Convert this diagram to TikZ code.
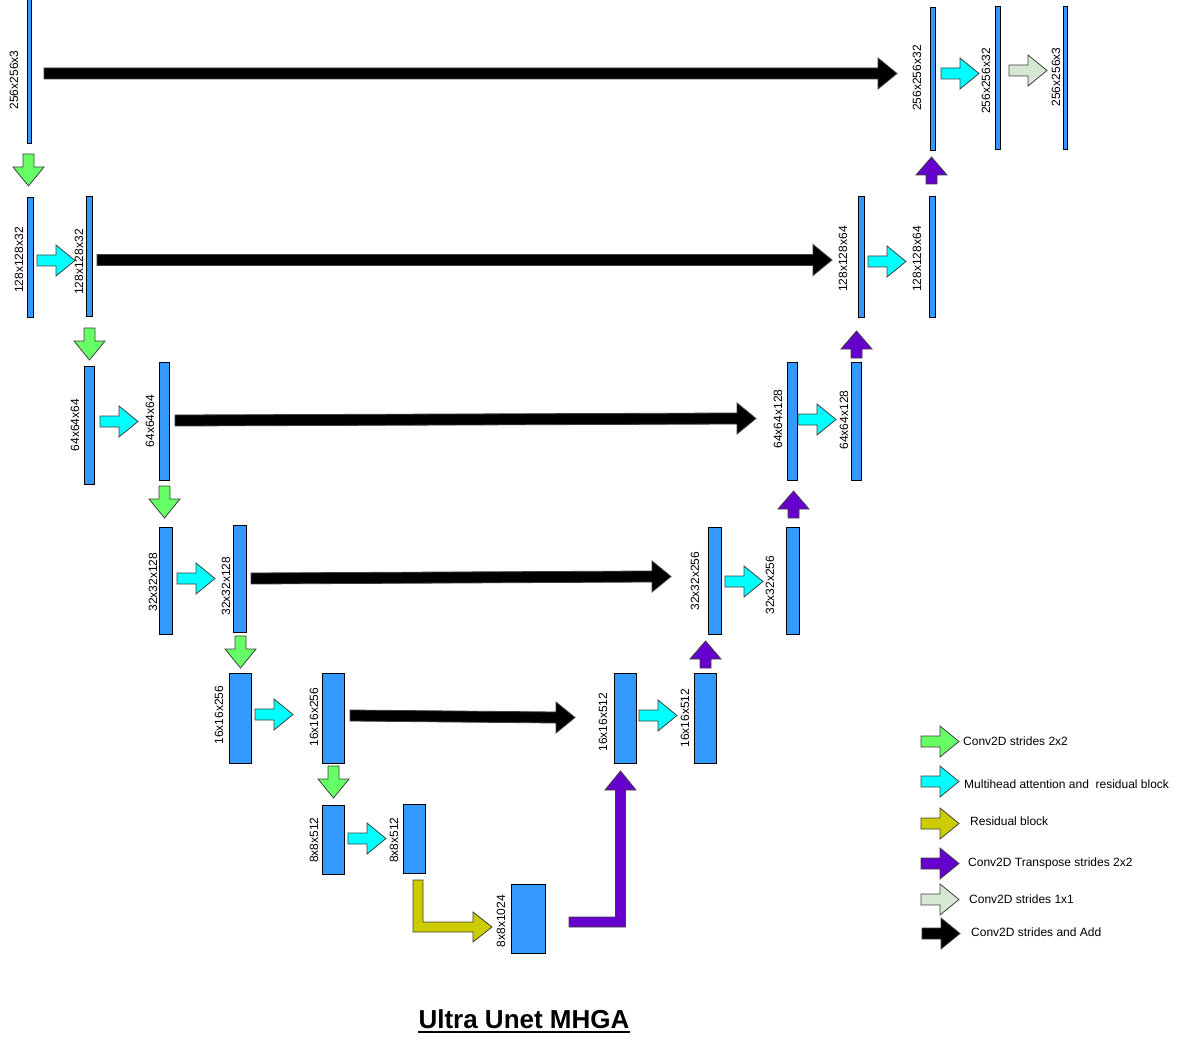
\documentclass[tikz,border=0pt]{standalone}
\usepackage{fontspec}
\setmainfont{Liberation Sans}
\definecolor{blkc}{HTML}{3399FF}
\definecolor{grn}{HTML}{66FF66}
\definecolor{cyn}{HTML}{00FFFF}
\definecolor{yel}{HTML}{CCCC00}
\definecolor{pur}{HTML}{6600CC}
\definecolor{pale}{HTML}{D5E8D4}
\newcommand\myBlk[5]{\node[blk, minimum width={(#4-#2)*1pt}, minimum height={(#5-#3)*1pt}] (#1) at ({(#2+#4)/2},{(#3+#5)/2}) {};}
\newcommand\myR[4]{\draw[arr, fill=#4] (#1,{#3-5.5}) -- ({#2-19},{#3-5.5}) -- ({#2-19},{#3-15.5}) -- (#2,#3) -- ({#2-19},{#3+15.5}) -- ({#2-19},{#3+5.5}) -- (#1,{#3+5.5}) -- cycle;}
\newcommand\myD[4]{\draw[arr, fill=#4] ({#1-5.5},#2) -- ({#1+5.5},#2) -- ({#1+5.5},{#3-19}) -- ({#1+15.5},{#3-19}) -- (#1,#3) -- ({#1-15.5},{#3-19}) -- ({#1-5.5},{#3-19}) -- cycle;}
\newcommand\myU[4]{\draw[arr, fill=#4] ({#1-5.5},#3) -- ({#1+5.5},#3) -- ({#1+5.5},{#2+18}) -- ({#1+15.5},{#2+18}) -- (#1,#2) -- ({#1-15.5},{#2+18}) -- ({#1-5.5},{#2+18}) -- cycle;}
\begin{document}
\begin{tikzpicture}[x=1pt,y=-1pt,
  blk/.style={draw=black, line width=1pt, fill=blkc, inner sep=0pt, outer sep=0pt},
  arr/.style={draw=black!75, line width=0.8pt, line join=miter},
  lbl/.style={rotate=90, inner sep=0pt, font=\fontsize{12}{14}\selectfont},
  leg/.style={anchor=west, inner sep=0pt, font=\fontsize{12}{14}\selectfont}]
\useasboundingbox (0,0) rectangle (1179,1043);
% blocks
\myBlk{a0}{27}{0}{31}{144}
\myBlk{ra}{930}{8}{935}{151}
\myBlk{rb}{995}{7}{1000}{150}
\myBlk{rc}{1063}{7}{1067}{150}
\myBlk{b1}{27}{198}{33}{318}
\myBlk{b2}{86}{197}{92}{317}
\myBlk{rb1}{858}{197}{864}{318}
\myBlk{rb2}{929}{197}{935}{318}
\myBlk{c1}{84}{366}{94}{484}
\myBlk{c2}{159}{362}{169}{480}
\myBlk{rc1}{787}{362}{797}{480}
\myBlk{rc2}{851}{362}{861}{480}
\myBlk{d1}{159}{527}{172}{634}
\myBlk{d2}{233}{525}{246}{632}
\myBlk{rd1}{708}{527}{721}{634}
\myBlk{rd2}{786}{527}{799}{634}
\myBlk{e1}{229}{673}{251}{763}
\myBlk{e2}{322}{673}{344}{763}
\myBlk{re1}{614}{673}{636}{763}
\myBlk{re2}{694}{673}{716}{763}
\myBlk{f1}{322}{805}{344}{874}
\myBlk{f2}{403}{804}{425}{873}
\myBlk{g}{511}{884}{545}{953}
% labels
\node[lbl] (la0) at (14,80) {256x256x3};
\node[lbl] (lb1) at (19,260) {128x128x32};
\node[lbl] (lb2) at (79,262) {128x128x32};
\node[lbl] (lc1) at (75,425) {64x64x64};
\node[lbl] (lc2) at (150,421) {64x64x64};
\node[lbl] (ld1) at (153,582) {32x32x128};
\node[lbl] (ld2) at (226,586) {32x32x128};
\node[lbl] (le1) at (219,715) {16x16x256};
\node[lbl] (le2) at (314,717) {16x16x256};
\node[lbl] (lf1) at (314,840) {8x8x512};
\node[lbl] (lf2) at (394,840) {8x8x512};
\node[lbl] (lg) at (501,921) {8x8x1024};
\node[lbl] (lre1) at (603,722) {16x16x512};
\node[lbl] (lre2) at (685,718) {16x16x512};
\node[lbl] (lrd1) at (695,581) {32x32x256};
\node[lbl] (lrd2) at (770,585) {32x32x256};
\node[lbl] (lrc1) at (778,419) {64x64x128};
\node[lbl] (lrc2) at (844,420) {64x64x128};
\node[lbl] (lrb1) at (843,259) {128x128x64};
\node[lbl] (lrb2) at (917,259) {128x128x64};
\node[lbl] (lra) at (917,78) {256x256x32};
\node[lbl] (lrb) at (986,81) {256x256x32};
\node[lbl] (lrc) at (1056,77) {256x256x3};
% green down arrows
\myD{28.5}{154}{186}{grn}
\myD{89.5}{328}{360}{grn}
\myD{164.5}{486}{518}{grn}
\myD{240.5}{636}{668}{grn}
\myD{333.5}{766}{798}{grn}
% cyan arrows
\myR{37}{75}{260.5}{cyn}
\myR{100}{138}{421.5}{cyn}
\myR{177}{215}{578.5}{cyn}
\myR{255}{293}{714.5}{cyn}
\myR{348}{386}{838.5}{cyn}
\myR{639}{677}{715.5}{cyn}
\myR{725}{763}{581.5}{cyn}
\myR{798}{836}{419.5}{cyn}
\myR{868}{906}{261.5}{cyn}
\myR{941}{979}{73.5}{cyn}
\myR{1009}{1047}{70.5}{pale}
% purple up arrows
\myU{931.5}{157}{184}{pur}
\myU{856.5}{331}{358}{pur}
\myU{793.5}{491}{518}{pur}
\myU{705.5}{641}{668}{pur}
% purple L
\draw[arr, fill=pur] (569,917) -- (615.5,917) -- (615.5,790) -- (605,790) -- (620.5,771) -- (636,790) -- (625.5,790) -- (625.5,927) -- (569,927) -- cycle;
% yellow L
\draw[arr, fill=yel] (413,880) -- (423,880) -- (423,922) -- (473,922) -- (473,912) -- (492,927) -- (473,942) -- (473,932) -- (413,932) -- cycle;
% black skip arrows
\draw[arr, fill=black] (44,68) -- (878,68) -- (878,58) -- (897,73.5) -- (878,89) -- (878,79) -- (44,79) -- cycle;
\draw[arr, fill=black] (97,254.5) -- (813,254.5) -- (813,244.5) -- (832,260) -- (813,275.5) -- (813,265.5) -- (97,265.5) -- cycle;
\draw[arr, fill=black] (175,415) -- (737,413) -- (737,403) -- (756,418.5) -- (737,434) -- (737,424) -- (175,426) -- cycle;
\draw[arr, fill=black] (251,573) -- (652,571) -- (652,561) -- (671,576.5) -- (652,592) -- (652,582) -- (251,584) -- cycle;
\draw[arr, fill=black] (350,710) -- (556,712) -- (556,702) -- (575,717.5) -- (556,733) -- (556,723) -- (350,721) -- cycle;
% legend
\myR{921}{959}{741.5}{grn}
\myR{921}{959}{781.5}{cyn}
\myR{921}{959}{823.5}{yel}
\myR{921}{959}{863.5}{pur}
\myR{921}{959}{899.5}{pale}
\myR{922}{960}{933.5}{black}
\node[leg] (t1) at (963,741) {Conv2D strides 2x2};
\node[leg] (t2) at (964,784) {Multihead attention and\ \ residual block};
\node[leg] (t3) at (970,821) {Residual block};
\node[leg] (t4) at (968,863) {Conv2D Transpose strides 2x2};
\node[leg] (t5) at (969,899) {Conv2D strides 1x1};
\node[leg] (t6) at (971,932) {Conv2D strides and Add};
% title
\node[anchor=base, inner sep=0pt, font=\fontsize{26}{30}\selectfont\bfseries] (title) at (524,1028) {Ultra Unet MHGA};
\draw[line width=2pt] ([yshift=-4pt]title.base west) -- ([yshift=-4pt]title.base east);
\end{tikzpicture}
\end{document}
